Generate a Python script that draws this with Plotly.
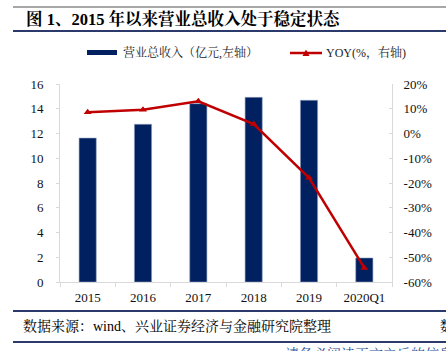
import plotly.graph_objects as go

categories = ["2015", "2016", "2017", "2018", "2019", "2020Q1"]
revenue = [11.63, 12.74, 14.41, 14.92, 14.68, 1.94]
yoy = [8.6, 9.6, 13.0, 3.8, -17.9, -54.3]
left_ticks = [0, 2, 4, 6, 8, 10, 12, 14, 16]
right_ticks = [-60, -50, -40, -30, -20, -10, 0, 10, 20]
right_labels = [f"{v}%" for v in right_ticks]

title_text = "图 1、2015 年以来营业总收入处于稳定状态"
legend_bar = "营业总收入（亿元,左轴）"
legend_line = "YOY(%，右轴)"
source_text = "数据来源：wind、兴业证券经济与金融研究院整理"

NAVY = "#002060"
RED = "#C00000"
SERIF = "Liberation Serif, Noto Sans CJK SC, serif"
CJK = "Liberation Serif, Noto Serif CJK SC, Noto Sans CJK SC, serif"
W, H = 446, 351
ML, MR, MT, MB = 60, 54, 84, 69
PW = W - ML - MR
PH = H - MT - MB


def px_x(v):
    return (v - ML) / PW


def px_y(v):
    return (H - MB - v) / PH


fig = go.Figure()
fig.add_trace(go.Bar(x=categories, y=revenue, marker=dict(color=NAVY, line=dict(color="#8c9cc0", width=0.6)),
                     width=0.31, showlegend=False, yaxis="y"))
fig.add_trace(go.Scatter(x=categories, y=yoy, mode="lines+markers", yaxis="y2", showlegend=False,
                         line=dict(color=RED, width=2.5),
                         marker=dict(symbol="triangle-up", size=7, color=RED)))

shapes = [
    dict(type="line", xref="paper", yref="paper", x0=px_x(13), x1=px_x(W), y0=px_y(7), y1=px_y(7),
         line=dict(color="#8a8a8a", width=1.5)),
    dict(type="line", xref="paper", yref="paper", x0=px_x(13), x1=px_x(W), y0=px_y(31), y1=px_y(31),
         line=dict(color="#2b3a6b", width=2)),
    dict(type="line", xref="paper", yref="paper", x0=px_x(13), x1=px_x(W), y0=px_y(311), y1=px_y(311),
         line=dict(color="#2b3a6b", width=2)),
    dict(type="line", xref="paper", yref="paper", x0=px_x(13), x1=px_x(W), y0=px_y(342), y1=px_y(342),
         line=dict(color="#2b3a6b", width=2)),
    # legend symbols
    dict(type="rect", xref="paper", yref="paper", x0=px_x(87), x1=px_x(117), y0=px_y(55), y1=px_y(50),
         fillcolor=NAVY, line=dict(width=0)),
    dict(type="line", xref="paper", yref="paper", x0=px_x(290), x1=px_x(322), y0=px_y(53), y1=px_y(53),
         line=dict(color=RED, width=2.5)),
    dict(type="path", xref="paper", yref="paper",
         path=f"M {px_x(302.5)},{px_y(56)} L {px_x(309.5)},{px_y(56)} L {px_x(306)},{px_y(49.5)} Z",
         fillcolor=RED, line=dict(width=0)),
]

annotations = [
    dict(text=f"<b>{title_text}</b>", xref="paper", yref="paper", x=px_x(24), y=px_y(19),
         xanchor="left", yanchor="middle", showarrow=False, font=dict(family=CJK, size=16.5, color="#000")),
    dict(text=legend_bar, xref="paper", yref="paper", x=px_x(121), y=px_y(52.5),
         xanchor="left", yanchor="middle", showarrow=False, font=dict(family=CJK, size=12, color="#222")),
    dict(text=legend_line, xref="paper", yref="paper", x=px_x(324), y=px_y(52.5),
         xanchor="left", yanchor="middle", showarrow=False, font=dict(family=CJK, size=12, color="#222")),
    dict(text=source_text, xref="paper", yref="paper", x=px_x(21), y=px_y(326),
         xanchor="left", yanchor="middle", showarrow=False, font=dict(family=CJK, size=14, color="#000")),
    dict(text="数", xref="paper", yref="paper", x=px_x(438), y=px_y(326),
         xanchor="left", yanchor="middle", showarrow=False, font=dict(family=CJK, size=14, color="#000")),
    dict(text="请务必阅读正文之后的信息披露和重要声明", xref="paper", yref="paper", x=px_x(283), y=px_y(354),
         xanchor="left", yanchor="middle", showarrow=False, font=dict(family=CJK, size=14, color="#2f5597")),
]

fig.update_layout(
    width=W, height=H,
    margin=dict(l=ML, r=MR, t=MT, b=MB, autoexpand=False),
    paper_bgcolor="white", plot_bgcolor="white",
    font=dict(family=SERIF, size=13, color="#111"),
    shapes=shapes, annotations=annotations,
    bargap=0.69,
    xaxis=dict(type="category", showgrid=False, showline=True, linecolor="#d9d9d9", linewidth=1,
               ticks="outside", tickson="boundaries", ticklen=4, tickcolor="#d9d9d9",
               tickfont=dict(family=SERIF, size=13, color="#111"), ticklabelstandoff=3),
    yaxis=dict(range=[0, 16], tickvals=left_ticks, showgrid=False, zeroline=False, showline=True,
               linecolor="#d9d9d9", linewidth=1, ticks="outside", ticklen=3, tickcolor="#d9d9d9",
               tickfont=dict(family=SERIF, size=13, color="#111"), ticklabelstandoff=10),
    yaxis2=dict(range=[-60, 20], tickvals=right_ticks, ticktext=right_labels, overlaying="y", side="right",
                showgrid=False, zeroline=False, showline=True, linecolor="#d9d9d9", linewidth=1,
                ticks="inside", ticklen=3, tickcolor="#d9d9d9",
                tickfont=dict(family=SERIF, size=13, color="#111"), ticklabelstandoff=8),
)

fig.write_html("out.html")
